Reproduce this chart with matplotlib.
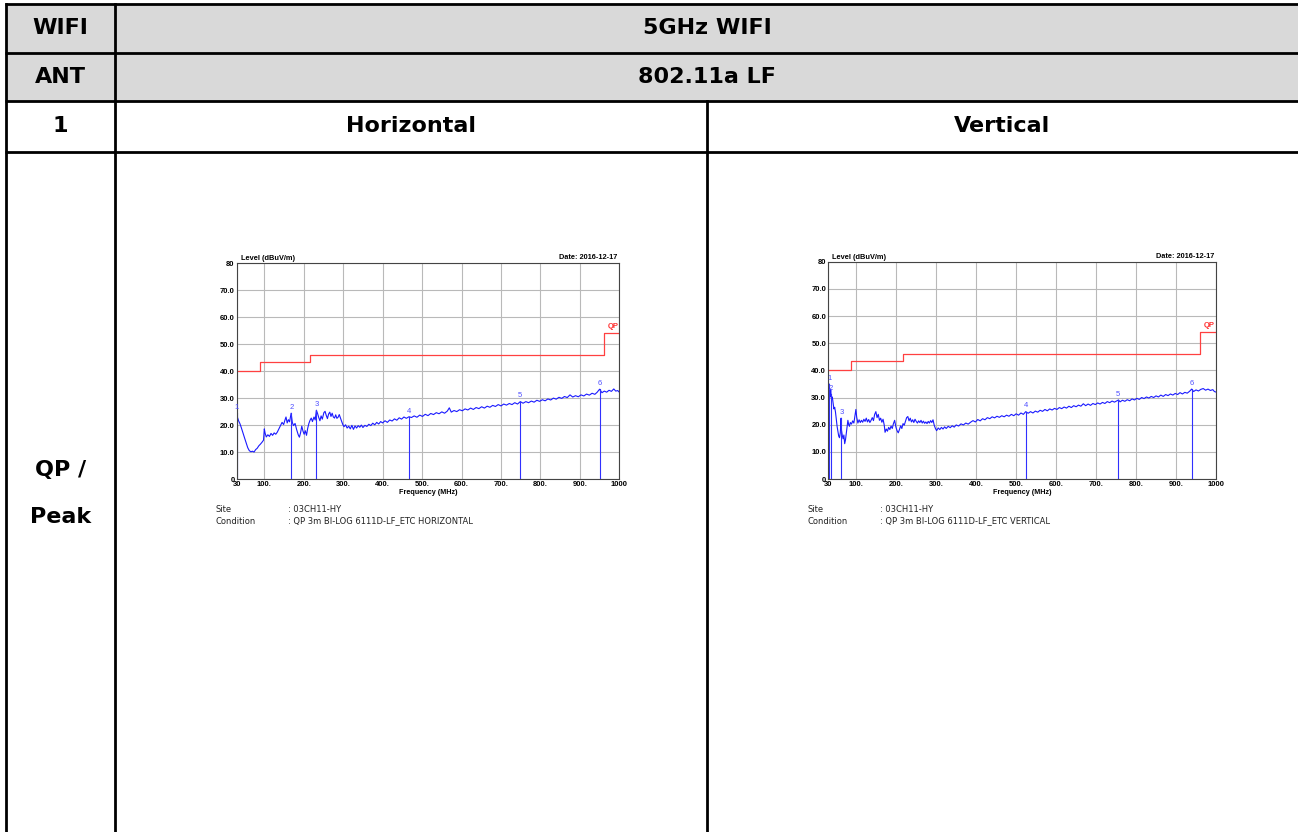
import matplotlib
matplotlib.use("Agg")
import matplotlib.pyplot as plt

# ---------------------------------------------------------------- table text
header_left = ["WIFI", "ANT", "1"]
header_span = ["5GHz WIFI", "802.11a LF"]
polarizations = ["Horizontal", "Vertical"]
row_label = ["QP /", "Peak"]

# ---------------------------------------------------------------- chart data
x_ticks = [30, 100, 200, 300, 400, 500, 600, 700, 800, 900, 1000]
x_tick_labels = ["30", "100.", "200.", "300.", "400.", "500.", "600.", "700.",
                 "800.", "900.", "1000"]
y_ticks = [0, 10, 20, 30, 40, 50, 60, 70, 80]
y_tick_labels = ["0", "10.0", "20.0", "30.0", "40.0", "50.0", "60.0", "70.0", "80"]

# QP limit (dBuV/m) as a step function of frequency (MHz)
limit_freq = [30, 88, 88, 216, 216, 960, 960, 1000]
limit_level = [40, 40, 43.5, 43.5, 46, 46, 54, 54]

# Horizontal polarization sweep
h_freq = [30, 32, 35, 38, 42, 46, 50, 54, 58, 62, 66, 70, 74, 78, 82, 86, 90, 94, 98,
          100, 102, 105, 109, 113, 117, 121, 125, 129, 133, 137, 141, 145, 149, 152,
          155, 158, 161, 164, 168, 171, 174, 178, 182, 186, 189, 192, 195, 198, 201,
          204, 207, 210, 213, 216, 219, 222, 226, 229, 232, 235, 238, 241, 244, 247,
          251, 254, 257, 260, 263, 266, 269, 272, 275, 278, 281, 284, 287, 290, 293,
          296, 299, 302, 306, 310, 314, 318, 322, 326, 330, 334, 338, 342, 346, 350,
          355, 360, 365, 370, 375, 380, 385, 390, 395, 400, 406, 412, 418, 424, 430,
          436, 442, 448, 454, 460, 467, 473, 480, 487, 494, 501, 508, 515, 522, 529,
          536, 543, 550, 557, 564, 569, 574, 581, 588, 595, 602, 609, 616, 623, 630,
          637, 644, 651, 658, 665, 672, 679, 686, 693, 700, 707, 714, 721, 728, 735,
          742, 749, 756, 763, 770, 777, 784, 791, 798, 805, 812, 819, 826, 833, 840,
          847, 854, 861, 868, 875, 882, 889, 896, 903, 910, 917, 924, 931, 938, 944,
          950, 956, 962, 968, 974, 980, 986, 991, 996, 1000]
h_level = [24.5, 22.8, 21.5, 20.6, 18.9, 17.0, 15.2, 13.4, 11.6, 10.5, 10.1, 10.3, 10.0,
           10.9, 11.4, 12.3, 12.9, 13.6, 14.4, 18.6, 17.0, 15.6, 16.4, 15.8, 16.9, 16.2,
           17.1, 16.6, 17.4, 18.6, 19.8, 21.0, 20.2, 21.7, 23.0, 20.8, 22.0, 21.2, 24.4,
           21.0, 19.8, 20.6, 18.3, 16.4, 15.5, 17.2, 19.6, 17.8, 16.6, 17.9, 16.2, 18.8,
           20.6, 21.8, 22.6, 21.3, 23.0, 21.9, 25.5, 24.3, 22.8, 21.6, 23.4, 22.2, 24.6,
           25.1, 23.6, 22.4, 24.1, 24.8, 23.2, 24.4, 23.0, 22.6, 23.8, 22.5, 22.9, 23.9,
           22.6, 21.4, 20.2, 19.4, 20.1, 18.9, 19.6, 18.6, 19.9, 18.4, 19.7, 18.9, 19.8,
           19.2, 20.0, 19.1, 19.9, 19.5, 20.3, 19.8, 20.7, 20.1, 21.0, 20.4, 21.3, 20.8,
           21.6, 21.0, 21.9, 21.5, 22.3, 21.8, 22.7, 22.2, 23.0, 22.5, 23.1, 22.8, 23.4,
           22.9, 23.7, 23.2, 24.0, 23.5, 24.3, 23.9, 24.6, 24.2, 24.9, 24.4, 25.2, 26.4,
           24.8, 25.4, 25.0, 25.7, 25.3, 26.0, 25.6, 26.3, 25.8, 26.5, 26.1, 26.8, 26.3,
           27.0, 26.6, 27.3, 26.9, 27.6, 27.1, 27.8, 27.4, 28.0, 27.6, 28.3, 27.8, 28.7,
           28.1, 28.7, 28.3, 28.9, 28.5, 29.2, 28.8, 29.4, 29.0, 29.7, 29.3, 30.0, 29.6,
           30.3, 29.9, 30.6, 30.2, 31.2, 30.4, 30.9, 30.5, 31.2, 30.8, 31.5, 31.1, 31.8,
           31.4, 32.2, 33.3, 32.0, 32.6, 32.2, 32.9, 32.5, 33.4, 32.6, 32.8, 32.2]
h_marker_freq = [30, 168.6, 232, 467.7, 749, 950]
h_marker_level = [24.5, 24.4, 25.5, 23.1, 28.7, 33.3]

# Vertical polarization sweep
v_freq = [30, 31, 32, 33, 34, 35, 36, 37, 38, 40, 42, 44, 46, 48, 50, 52, 54, 56, 58,
          60, 62, 63, 65, 67, 69, 71, 73, 75, 77, 79, 81, 83, 85, 88, 91, 94, 97, 99,
          101, 104, 107, 110, 113, 116, 119, 122, 125, 128, 131, 134, 137, 140, 143,
          146, 149, 152, 155, 158, 161, 164, 167, 170, 172, 175, 178, 181, 184, 187,
          190, 193, 196, 199, 202, 205, 208, 211, 214, 217, 220, 223, 226, 229, 232,
          235, 238, 241, 244, 247, 250, 253, 256, 259, 262, 265, 268, 271, 274, 277,
          280, 283, 286, 289, 292, 295, 298, 301, 305, 309, 313, 317, 321, 325, 330,
          335, 340, 345, 350, 356, 362, 368, 374, 380, 386, 392, 398, 404, 410, 416,
          422, 428, 434, 440, 446, 452, 458, 464, 470, 476, 482, 488, 494, 500, 506,
          512, 518, 524, 530, 536, 542, 548, 554, 560, 566, 572, 578, 584, 590, 596,
          602, 608, 614, 620, 626, 632, 638, 644, 650, 656, 662, 668, 674, 680, 686,
          692, 698, 704, 710, 716, 722, 728, 734, 740, 746, 752, 756, 760, 766, 772,
          778, 784, 790, 796, 802, 808, 814, 820, 826, 832, 838, 844, 850, 856, 862,
          868, 874, 880, 886, 892, 898, 904, 910, 916, 922, 928, 934, 939, 944, 950,
          956, 962, 968, 974, 980, 986, 992, 996, 1000]
v_level = [31.5, 34.0, 35.0, 31.0, 30.2, 31.2, 33.0, 31.0, 29.6, 30.2, 28.0, 25.8, 26.4,
           24.6, 22.0, 19.4, 17.6, 15.8, 15.2, 17.0, 22.4, 18.0, 16.0, 14.8, 16.2, 13.0,
           14.4, 16.8, 19.2, 21.6, 20.0, 19.4, 20.8, 20.2, 21.4, 20.6, 23.6, 25.6, 22.8,
           20.6, 21.8, 20.8, 21.6, 20.9, 22.0, 21.2, 22.4, 21.0, 21.9, 20.8, 21.6, 22.6,
           21.5, 23.8, 24.8, 22.6, 23.8, 21.6, 22.4, 20.9, 22.0, 19.8, 17.2, 18.4, 17.6,
           19.0, 18.2, 19.5, 18.6, 20.4, 21.6, 19.2, 17.8, 17.0, 18.2, 19.6, 18.6, 20.4,
           19.8, 21.2, 22.6, 23.0, 21.4, 22.4, 21.0, 21.8, 20.8, 22.0, 21.2, 20.6, 21.4,
           20.8, 21.6, 20.6, 21.3, 20.5, 21.0, 20.4, 21.2, 20.6, 21.5, 20.8, 21.8, 19.8,
           18.6, 17.8, 18.8, 18.2, 19.0, 18.4, 19.2, 18.6, 19.4, 18.9, 19.6, 19.1, 19.9,
           19.5, 20.3, 19.9, 20.6, 20.2, 20.9, 21.5, 21.0, 21.9, 21.4, 22.2, 21.8, 22.6,
           22.2, 22.9, 22.5, 23.1, 22.7, 23.3, 22.9, 23.5, 23.1, 23.8, 23.3, 24.0, 23.5,
           24.3, 23.8, 24.8, 24.2, 24.8, 24.3, 25.0, 24.6, 25.3, 24.9, 25.6, 25.1, 25.8,
           25.4, 26.0, 25.6, 26.3, 25.9, 26.5, 26.1, 26.8, 26.3, 27.0, 26.6, 27.2, 26.8,
           27.7, 27.0, 27.6, 27.1, 27.8, 27.4, 28.0, 27.6, 28.2, 27.8, 28.5, 28.1, 28.7,
           28.3, 28.8, 29.1, 28.4, 29.0, 28.6, 29.2, 28.8, 29.5, 29.1, 29.7, 29.3, 30.0,
           29.6, 30.2, 29.8, 30.4, 30.0, 30.6, 30.2, 30.9, 30.4, 31.1, 30.7, 31.3, 30.9,
           31.5, 31.1, 31.8, 31.3, 31.9, 31.6, 32.3, 33.1, 32.2, 32.8, 32.4, 33.0, 33.3,
           32.7, 33.1, 32.6, 32.9, 32.2, 32.0]
v_marker_freq = [32, 35.8, 62.5, 523.7, 755.6, 939]
v_marker_level = [35.0, 31.2, 22.4, 24.8, 29.1, 33.1]

date_text = "Date: 2016-12-17"
site_text = "03CH11-HY"
h_condition = "QP 3m BI-LOG 6111D-LF_ETC HORIZONTAL"
v_condition = "QP 3m BI-LOG 6111D-LF_ETC VERTICAL"

# ---------------------------------------------------------------- figure
W, H = 1298, 832
fig = plt.figure(figsize=(W / 100, H / 100), dpi=100)
fig.patch.set_facecolor("white")

# full-figure axes in pixel coordinates for the table frame
tbl = fig.add_axes([0, 0, 1, 1])
tbl.set_xlim(0, W)
tbl.set_ylim(H, 0)
tbl.axis("off")

x_left, x_col1, x_col2, x_right = 6, 115, 707, 1300
y_top, y_r1, y_r2, y_r3 = 4, 53, 101, 152
gray = "#d9d9d9"
tbl.fill_between([x_left, x_right], y_top, y_r2, color=gray, zorder=0)

lw = 2.0
for y in (y_top, y_r1, y_r2, y_r3):
    tbl.plot([x_left - 1, x_right], [y, y], color="black", lw=lw, solid_capstyle="butt")
tbl.plot([x_left, x_left], [y_top, H + 2], color="black", lw=lw)
tbl.plot([x_col1, x_col1], [y_top, H + 2], color="black", lw=lw)
tbl.plot([x_col2, x_col2], [y_r2, H + 2], color="black", lw=lw)

hfont = dict(family="DejaVu Sans", fontweight="bold", fontsize=16,
             ha="center", va="center", color="black")
col1_c = (x_left + x_col1) / 2
tbl.text(col1_c, (y_top + y_r1) / 2, header_left[0], **hfont)
tbl.text(col1_c, (y_r1 + y_r2) / 2, header_left[1], **hfont)
tbl.text(col1_c, (y_r2 + y_r3) / 2, header_left[2], **hfont)
tbl.text(707, (y_top + y_r1) / 2, header_span[0], **hfont)
tbl.text(707, (y_r1 + y_r2) / 2, header_span[1], **hfont)
tbl.text((x_col1 + x_col2) / 2, (y_r2 + y_r3) / 2, polarizations[0], **hfont)
tbl.text((x_col2 + 1298) / 2, (y_r2 + y_r3) / 2, polarizations[1], **hfont)
tbl.text(col1_c, 470, row_label[0], **hfont)
tbl.text(col1_c, 517, row_label[1], **hfont)


def px_rect(left, top, right, bottom):
    return [left / W, 1 - bottom / H, (right - left) / W, (bottom - top) / H]


def emission_chart(rect, freq, level, mk_f, mk_l, condition, info_x):
    ax = fig.add_axes(px_rect(*rect))
    ax.set_xlim(30, 1000)
    ax.set_ylim(0, 80)
    ax.set_xticks(x_ticks)
    ax.set_xticklabels(x_tick_labels)
    ax.set_yticks(y_ticks)
    ax.set_yticklabels(y_tick_labels)
    ax.tick_params(length=0, labelsize=5.5, pad=1.5)
    for lab in ax.get_xticklabels() + ax.get_yticklabels():
        lab.set_fontweight("bold")
        lab.set_family("Liberation Sans")
    ax.grid(True, color="#b9b9b9", lw=0.8)
    ax.set_axisbelow(True)
    for s in ax.spines.values():
        s.set_color("#444444")
        s.set_linewidth(0.8)

    ax.plot(limit_freq, limit_level, color="#ff4040", lw=0.9)
    ax.text(998, 55.2, "QP", color="#ff3030", fontsize=5.5, fontweight="bold",
            family="Liberation Sans", ha="right", va="bottom")
    ax.plot(freq, level, color="#1a1aff", lw=0.8)
    for i, (f, l) in enumerate(zip(mk_f, mk_l), start=1):
        ax.plot([f, f], [0, l], color="#3030ff", lw=0.8)
        ax.text(f, l + 0.8, str(i), color="#4f4fff", fontsize=5.5,
                family="Liberation Sans", ha="center", va="bottom")

    ax.text(0.0, 1.005, "  Level (dBuV/m)", transform=ax.transAxes, fontsize=5.3,
            fontweight="bold", family="Liberation Sans", ha="left", va="bottom")
    ax.text(0.995, 1.01, date_text, transform=ax.transAxes, fontsize=5.3,
            fontweight="bold", family="Liberation Sans", ha="right", va="bottom")
    ax.set_xlabel("Frequency (MHz)", fontsize=5.2, fontweight="bold",
                  family="Liberation Sans", labelpad=0.5)

    small = dict(fontsize=6, family="DejaVu Sans", color="#222222",
                 ha="left", va="center")
    tbl.text(info_x, 509, "Site", **small)
    tbl.text(info_x, 521, "Condition", **small)
    tbl.text(info_x + 72, 509, ": " + site_text, **small)
    tbl.text(info_x + 72, 521, ": " + condition, **small)
    return ax


emission_chart((236.7, 263.3, 619.3, 479.0), h_freq, h_level,
               h_marker_freq, h_marker_level, h_condition, 216)
emission_chart((828.3, 261.7, 1216.0, 479.0), v_freq, v_level,
               v_marker_freq, v_marker_level, v_condition, 808)

fig.savefig("out.png", dpi=100, facecolor="white")
